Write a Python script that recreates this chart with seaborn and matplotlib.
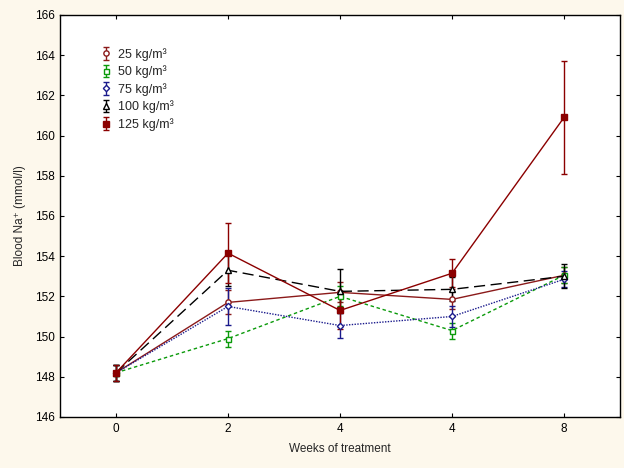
import seaborn as sns
import matplotlib.pyplot as plt
import pandas as pd
import numpy as np

weeks = ["0", "2", "4", "4", "8"]
groups = ["25 kg/m³", "50 kg/m³", "75 kg/m³", "100 kg/m³", "125 kg/m³"]

na_25 = [148.2, 151.7, 152.2, 151.85, 153.05]
na_50 = [148.2, 149.9, 152.0, 150.3, 153.05]
na_75 = [148.2, 151.5, 150.55, 151.0, 152.85]
na_100 = [148.2, 153.3, 152.25, 152.35, 153.0]
na_125 = [148.2, 154.15, 151.3, 153.15, 160.9]

err_25 = [0.4, 0.6, 0.5, 0.5, 0.4]
err_50 = [0.4, 0.4, 0.5, 0.4, 0.4]
err_75 = [0.4, 0.9, 0.6, 0.5, 0.4]
err_100 = [0.4, 0.8, 1.1, 0.6, 0.6]
err_125 = [0.4, 1.5, 0.9, 0.7, 2.8]

sns.set_theme(style="white")
plt.rcParams['font.family'] = ['Liberation Sans', 'DejaVu Sans']

fig = plt.figure(figsize=(6.24, 4.68), dpi=100, facecolor="#fdf8ec")
ax = fig.add_axes([0.0962, 0.109, 0.8974, 0.859])
ax.set_facecolor("white")

x = np.arange(len(weeks))
series = [
    (na_25, err_25, "#8b1a1a", "o", None, "-", 3.8, "white"),
    (na_50, err_50, "#0a9a0a", "s", (2.5, 2), "--", 3.6, "white"),
    (na_75, err_75, "#1a1a8c", "D", (1, 1), ":", 3.2, "white"),
    (na_100, err_100, "black", "^", (8, 4), "--", 4.0, "white"),
    (na_125, err_125, "#8b0000", "s", None, "-", 4.8, "#8b0000"),
]

handles = []
for (vals, errs, col, mk, dash, ls, ms, mfc), name in zip(series, groups):
    df = pd.DataFrame({"x": x, "y": vals})
    sns.lineplot(data=df, x="x", y="y", ax=ax, color=col, lw=1.0, linestyle=ls,
                 marker=mk, markersize=ms, markerfacecolor=mfc, markeredgecolor=col,
                 markeredgewidth=1.0, legend=False, zorder=3)
    if dash is not None:
        ax.lines[-1].set_dashes(dash)
    ax.errorbar(x, vals, yerr=errs, fmt="none", ecolor=col, elinewidth=1.0,
                capsize=2.5, capthick=1.0, zorder=2)
    h = ax.errorbar([np.nan], [np.nan], yerr=[1], fmt=mk, linestyle="none", color=col,
                    markersize=ms, markerfacecolor=mfc, markeredgecolor=col,
                    elinewidth=1.0, capsize=2.5)
    handles.append(h)

ax.set_xlim(-0.5, 4.5)
ax.set_ylim(146, 166)
ax.set_yticks(np.arange(146, 167, 2))
ax.set_xticks(x)
ax.set_xticklabels(weeks)
ax.tick_params(direction="in", length=3, width=0.8, labelsize=8.5, colors="black",
               top=True, right=True, left=True, bottom=True, pad=4)
for s in ax.spines.values():
    s.set_color("black")
    s.set_linewidth(1.0)

ax.set_xlabel("Weeks of treatment", fontsize=8.5, labelpad=6)
ax.set_ylabel("Blood Na⁺ (mmol/l)", fontsize=8.5, labelpad=6)

leg = ax.legend(handles, groups, loc="upper left", bbox_to_anchor=(0.055, 0.94),
                frameon=False, fontsize=9, handlelength=1.0, handletextpad=0.5,
                labelspacing=0.38, borderpad=0.2)

fig.savefig("out.png", dpi=100, facecolor=fig.get_facecolor())
